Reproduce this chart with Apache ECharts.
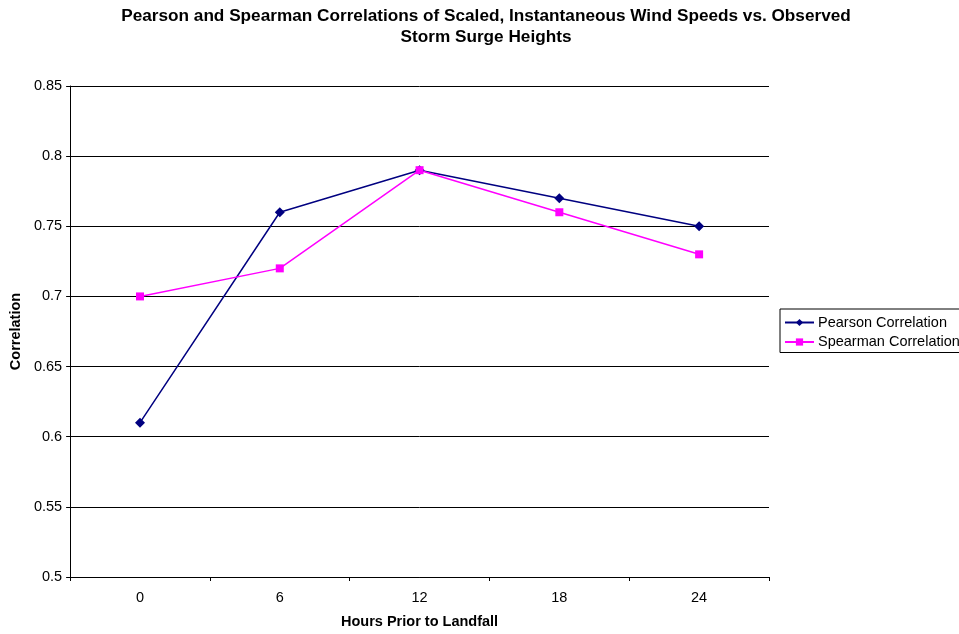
<!DOCTYPE html>
<html>
<head>
<meta charset="utf-8">
<script src="https://cdn.jsdelivr.net/npm/echarts@6/dist/echarts.min.js"></script>
<style>
html,body{margin:0;padding:0;background:#fff;}
#chart{width:959px;height:634px;}
</style>
</head>
<body>
<div id="chart"></div>
<script>
// Hours before landfall and correlation coefficients
const hours = ['0', '6', '12', '18', '24'];
const pearson = [0.61, 0.76, 0.79, 0.77, 0.75];
const spearman = [0.70, 0.72, 0.79, 0.76, 0.73];
const yTicks = [0.5, 0.55, 0.6, 0.65, 0.7, 0.75, 0.8, 0.85];

const chart = echarts.init(document.getElementById('chart'), null, {renderer: 'canvas'});
const font = 'Liberation Sans, Arial, sans-serif';

chart.setOption({
  animation: false,
  backgroundColor: '#ffffff',
  title: {
    text: 'Pearson and Spearman Correlations of Scaled, Instantaneous Wind Speeds vs. Observed\nStorm Surge Heights',
    left: 481,
    textAlign: 'center',
    top: 1,
    textStyle: {fontFamily: font, fontSize: 17.2, fontWeight: 'bold', color: '#000', lineHeight: 21}
  },
  legend: {
    orient: 'vertical',
    left: 780,
    top: 309,
    padding: [6, 6, 3, 4],
    itemGap: 4.5,
    itemWidth: 29,
    itemHeight: 9,
    borderColor: '#000',
    borderWidth: 1,
    textStyle: {fontFamily: font, fontSize: 14.5, color: '#000', padding: [0, 0, 0, -1]},
    data: ['Pearson Correlation', 'Spearman Correlation']
  },
  grid: {left: 70, right: 190, top: 86, bottom: 57},
  xAxis: {
    type: 'category',
    data: hours,
    boundaryGap: true,
    name: 'Hours Prior to Landfall',
    nameLocation: 'middle',
    nameGap: 37,
    nameTextStyle: {fontFamily: font, fontSize: 14.5, fontWeight: 'bold', color: '#000'},
    axisLine: {lineStyle: {color: '#000', width: 1}},
    axisTick: {show: true, length: 4, lineStyle: {color: '#000'}},
    axisLabel: {fontFamily: font, fontSize: 14.5, color: '#000', margin: 13},
    splitLine: {show: false}
  },
  yAxis: {
    type: 'value',
    min: yTicks[0],
    max: yTicks[yTicks.length - 1],
    interval: 0.05,
    name: 'Correlation',
    nameLocation: 'middle',
    nameGap: 44,
    nameRotate: 90,
    nameTextStyle: {fontFamily: font, fontSize: 14.5, fontWeight: 'bold', color: '#000'},
    axisLine: {show: true, lineStyle: {color: '#000', width: 1}},
    axisTick: {show: true, length: 4, lineStyle: {color: '#000'}},
    axisLabel: {
      fontFamily: font, fontSize: 14.5, color: '#000', margin: 8,
      formatter: v => String(parseFloat(v.toFixed(2)))
    },
    splitLine: {show: true, lineStyle: {color: '#000', width: 1}}
  },
  series: [
    {
      name: 'Pearson Correlation',
      type: 'line',
      data: pearson,
      color: '#000080',
      symbol: 'diamond',
      symbolSize: 10,
      lineStyle: {width: 1.5, color: '#000080'},
      itemStyle: {color: '#000080'}
    },
    {
      name: 'Spearman Correlation',
      type: 'line',
      data: spearman,
      color: '#ff00ff',
      symbol: 'rect',
      symbolSize: 8,
      lineStyle: {width: 1.5, color: '#ff00ff'},
      itemStyle: {color: '#ff00ff'}
    }
  ]
});
</script>
</body>
</html>
